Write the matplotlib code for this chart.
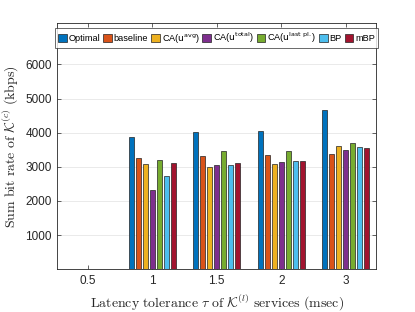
import matplotlib
matplotlib.use("Agg")
import matplotlib.pyplot as plt
import numpy as np

categories = ["0.5", "1", "1.5", "2", "3"]
series_names = ["Optimal", "baseline", r"CA($\mathrm{u}^{\mathrm{avg}}$)",
                r"CA($\mathrm{u}^{\mathrm{total}}$)", r"CA($\mathrm{u}^{\mathrm{last\ pl.}}$)",
                "BP", "mBP"]
optimal = [0, 3860, 4025, 4055, 4660]
baseline = [0, 3245, 3325, 3350, 3380]
ca_avg = [0, 3080, 2990, 3090, 3605]
ca_total = [0, 2310, 3060, 3130, 3500]
ca_last = [0, 3200, 3460, 3460, 3695]
bp = [0, 2740, 3040, 3170, 3570]
mbp = [0, 3120, 3110, 3170, 3550]
series = [optimal, baseline, ca_avg, ca_total, ca_last, bp, mbp]
colors = ["#0072BD", "#D95319", "#EDB120", "#7E2F8E", "#77AC30", "#4DBEEE", "#A2142F"]
yticks = [1000, 2000, 3000, 4000, 5000, 6000]

plt.rcParams['font.family'] = ['Liberation Sans', 'DejaVu Sans']
fig = plt.figure(figsize=(4.15, 3.12), dpi=100)
ax = fig.add_axes([0.138, 0.137, 0.768, 0.788])

x = np.arange(1, len(categories) + 1)
pitch = 0.109
width = 0.08
n = len(series)
for i, (vals, col, name) in enumerate(zip(series, colors, series_names)):
    off = (i - (n - 1) / 2) * pitch
    ax.bar(x + off, vals, width=width, color=col, edgecolor='#222222',
           linewidth=0.5, label=name, zorder=3)

ax.set_xlim(0.527, 5.47)
ax.set_ylim(0, 7200)
ax.set_xticks(x)
ax.set_xticklabels(categories)
ax.set_yticks(yticks)
ax.tick_params(axis='both', labelsize=8.5, colors='#262626', direction='in',
               length=3, width=0.5, top=True, right=True, pad=4)
for lab in ax.get_xticklabels() + ax.get_yticklabels():
    lab.set_color('#262626')
ax.grid(axis='y', color='#e6e6e6', linewidth=0.6, zorder=0)
for s in ax.spines.values():
    s.set_color('#262626')
    s.set_linewidth(0.6)

ax.set_ylabel(r"$\mathrm{Sum\ bit\ rate\ of\ }\mathcal{K}^{(c)}\mathrm{\ (kbps)}$",
              fontsize=10, math_fontfamily='cm', color='#262626', labelpad=4)
ax.set_xlabel(r"$\mathrm{Latency\ tolerance\ }\tau\mathrm{\ of\ }\mathcal{K}^{(l)}\mathrm{\ services\ (msec)}$",
              fontsize=10, math_fontfamily='cm', color='#262626', labelpad=4)

leg = ax.legend(loc='upper center', ncol=7, fontsize=6.6, handlelength=0.95,
                handleheight=0.95, handletextpad=0.2, columnspacing=0.3,
                borderpad=0.35, borderaxespad=0.45, frameon=True, fancybox=False,
                edgecolor='#262626', bbox_to_anchor=(0.5, 1.0))
leg.get_frame().set_linewidth(0.6)

fig.savefig("out.png", dpi=100, facecolor='white')
